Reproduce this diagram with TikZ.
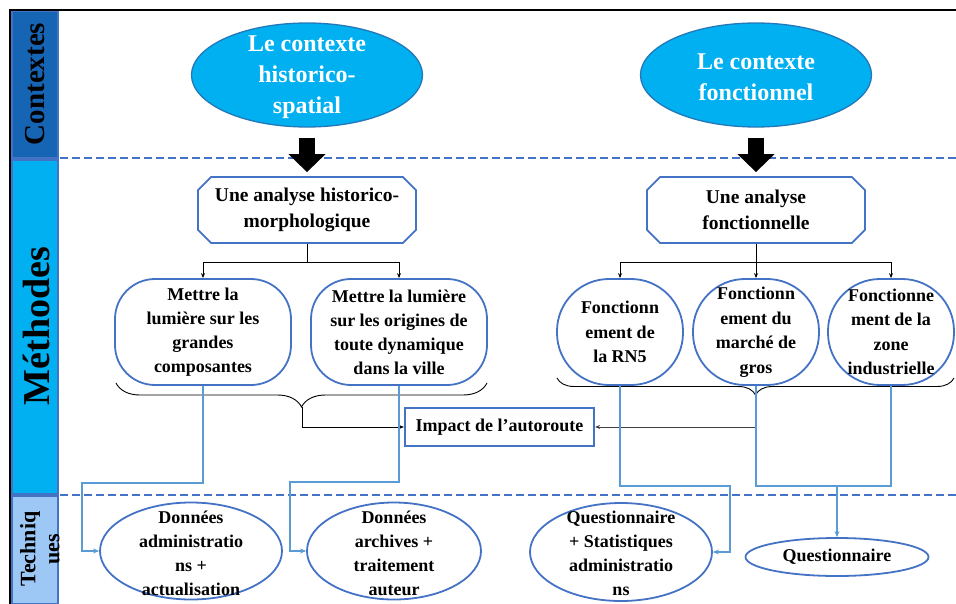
\documentclass[tikz,border=0pt]{standalone}
\usepackage{fontspec}
\setmainfont{Liberation Serif}
\usetikzlibrary{shapes.geometric,shapes.misc,arrows.meta,decorations.pathreplacing,calc}
\definecolor{ctxblue}{RGB}{22,100,180}
\definecolor{methblue}{RGB}{0,176,240}
\definecolor{techblue}{RGB}{157,200,245}
\definecolor{edgeblue}{RGB}{68,114,196}
\definecolor{lineblue}{RGB}{91,155,213}
\definecolor{ellipseedge}{RGB}{35,120,185}
\begin{document}
\begin{tikzpicture}[x=1pt,y=-1pt,
  ctxell/.style={ellipse, fill=methblue, draw=ellipseedge, line width=1.3pt, minimum width=231pt, minimum height=104pt, inner sep=0pt},
  ctxtext/.style={text=white, font=\fontsize{24}{31}\selectfont\bfseries, align=center, inner sep=0pt},
  anbox/.style={chamfered rectangle, chamfered rectangle xsep=10pt, draw=edgeblue, line width=1.8pt, minimum width=218pt, minimum height=66pt, inner sep=0pt, align=center, font=\fontsize{19.5}{26}\selectfont\bfseries},
  stadium/.style={rectangle, rounded corners=40pt, draw=edgeblue, line width=1.8pt, minimum width=176pt, minimum height=106pt, inner sep=0pt, align=center, font=\fontsize{18}{24}\selectfont\bfseries},
  roundnode/.style={rectangle, rounded corners=52pt, draw=edgeblue, line width=1.8pt, minimum width=126pt, minimum height=106pt, inner sep=0pt, align=center, font=\fontsize{18}{24.5}\selectfont\bfseries},
  impbox/.style={rectangle, draw=edgeblue, line width=2.2pt, minimum width=189pt, minimum height=38pt, inner sep=0pt, font=\fontsize{18}{24}\selectfont\bfseries},
  techell/.style={ellipse, draw=edgeblue, line width=1.8pt, minimum width=182pt, minimum height=97pt, inner sep=0pt},
  techtext/.style={align=center, inner sep=0pt, font=\fontsize{18}{24}\selectfont\bfseries},
  dashline/.style={edgeblue, line width=2.5pt, dash pattern=on 8pt off 4pt},
  bigarrow/.style={line width=16pt, -{Triangle[width=36pt,length=18pt]}},
  treearrow/.style={black, line width=0.9pt, -{Stealth[length=5pt,width=4pt]}},
  bluearrow/.style={lineblue, line width=1.6pt, -{Stealth[length=6pt,width=5pt]}},
  blueline/.style={lineblue, line width=1.6pt},
  bracestyle/.style={black, line width=0.9pt, decorate, decoration={brace, mirror, amplitude=#1}},
  sidetext/.style={rotate=90, align=center, inner sep=0pt}
]
\useasboundingbox (0,0) rectangle (956,603);

% sidebar
\fill[ctxblue] (12,11) rectangle (58,158);
\fill[methblue] (12,160) rectangle (58,494);
\fill[techblue] (12,496) rectangle (58,603);
\draw[edgeblue, line width=2pt] (12,11) rectangle (58,158);
\draw[edgeblue, line width=2pt] (12,160) rectangle (58,494);
\draw[edgeblue, line width=2pt] (12,496) rectangle (58,604);
\node[sidetext, font=\fontsize{29}{30}\selectfont\bfseries] (tctx) at (35,84) {Contextes};
\node[sidetext, font=\fontsize{38}{40}\selectfont\bfseries] (tmeth) at (36,326) {Méthodes};
\node[sidetext, font=\fontsize{22}{24}\selectfont\bfseries] (ttech) at (40,549) {Techniq\\ues};

% frame
\draw[black, line width=2.5pt] (10,604) -- (10,10) -- (956,10);

% dashed separators
\draw[dashline] (60,158) -- (956,158);
\draw[dashline] (60,495) -- (956,495);

% contexts
\node[ctxell] (e1) at (307,75) {};
\node[ctxtext] (e1t) at (307,77) {Le contexte\\historico-\\spatial};
\node[ctxell] (e2) at (756,75) {};
\node[ctxtext] (e2t) at (756,77) {Le contexte\\fonctionnel};

% analysis boxes
\node[anbox] (b1) at (307,210) {Une analyse historico-\\morphologique};
\node[anbox] (b2) at (756,210) {Une analyse\\fonctionnelle};

\draw[bigarrow, shorten <=10pt, shorten >=4pt] (e1.south) -- (b1.north);
\draw[bigarrow, shorten <=10pt, shorten >=4pt] (e2.south) -- (b2.north);

% method nodes
\node[stadium] (m1) at (203,332) {Mettre la\\lumière sur les\\grandes\\composantes};
\node[stadium] (m2) at (399,332) {Mettre la lumière\\sur les origines de\\toute dynamique\\dans la ville};
\node[roundnode] (f1) at (620,332) {Fonctionn\\ement de\\la RN5};
\node[roundnode] (f2) at (756,332) {Fonctionn\\ement du\\marché de\\gros};
\node[roundnode] (f3) at (891,332) {Fonctionne\\ment de la\\zone\\industrielle};

% tree connectors
\coordinate (t1) at (307,262);
\coordinate (t2) at (756,262);
\draw[black, line width=0.9pt] (b1.south) -- (t1);
\draw[treearrow] (t1) -| (m1.north);
\draw[treearrow] (t1) -| (m2.north);
\draw[treearrow] (b2.south) -- (f2.north);
\draw[treearrow] (t2) -| (f1.north);
\draw[treearrow] (t2) -| (f3.north);

% impact
\node[impbox] (imp) at (499.5,427) {Impact de l’autoroute};

% braces
\draw[bracestyle=24pt] (116,383) -- (487,383);
\coordinate (lb) at (302,407);
\draw[bracestyle=17pt] (557,378) -- (954,378);
\coordinate (rb) at (756,395);
\draw[treearrow] (lb) |- (imp.west);
\draw[treearrow, black!75] (rb) |- (imp.east);

% technique ellipses
\node[techell] (d1) at (191,551) {};
\node[techtext] (d1t) at (191,553) {Données\\administratio\\ns +\\actualisation};
\node[techell, minimum width=174pt] (d2) at (394,551) {};
\node[techtext] (d2t) at (394,553) {Données\\archives +\\traitement\\auteur};
\node[techell, minimum height=98pt] (d3) at (621,552) {};
\node[techtext] (d3t) at (621,553) {Questionnaire\\+ Statistiques\\administratio\\ns};
\node[techell, minimum width=183pt, minimum height=38pt] (q) at (837,557) {};
\node[techtext] (qt) at (837,557) {Questionnaire};

% blue connectors
\coordinate (c1) at (82,483);
\coordinate (c2) at (290,482);
\coordinate (c3) at (730,486);
\coordinate (c4) at (756,486);
\draw[bluearrow] (m1.south) |- (c1) |- (d1.west);
\draw[bluearrow] (m2.south) |- (c2) |- (d2.west);
\draw[bluearrow] (f1.south) |- (c3) |- (d3.east);
\draw[blueline] (f2.south) -- (c4) -| (f3.south);
\coordinate (c5) at (q.north |- c4);
\draw[bluearrow, line width=2.2pt] (c5) -- (q.north);
\end{tikzpicture}
\end{document}
